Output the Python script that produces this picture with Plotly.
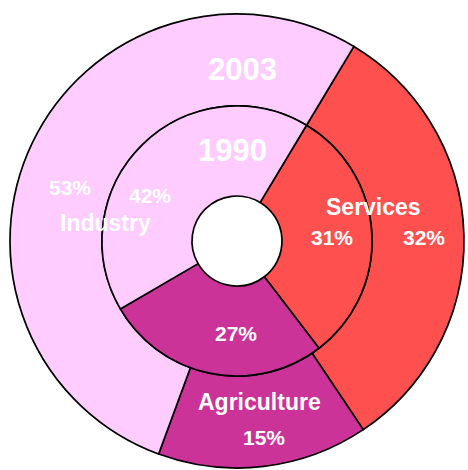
import plotly.graph_objects as go

categories = ["Services", "Agriculture", "Industry"]
values_1990 = [31, 27, 42]
values_2003 = [32, 15, 53]
years = ["1990", "2003"]
colors = ["#FF5050", "#CC3399", "#FFCCFF"]

W, H = 468, 470
cx, cy = 237, 241
R_out, R_mid, R_hole = 227, 135, 45


def dom(r):
    x0 = (cx - r) / W
    x1 = (cx + r) / W
    yb = H - cy
    y0 = (yb - r) / H
    y1 = (yb + r) / H
    return dict(x=[x0, x1], y=[y0, y1])


line = dict(color="black", width=1.7)
fig = go.Figure()
fig.add_trace(go.Pie(
    labels=categories, values=values_2003, sort=False, direction="clockwise",
    rotation=31, hole=R_mid / R_out, domain=dom(R_out), textinfo="none",
    marker=dict(colors=colors, line=line), showlegend=False, hoverinfo="label+percent",
))
fig.add_trace(go.Pie(
    labels=categories, values=values_1990, sort=False, direction="clockwise",
    rotation=31, hole=R_hole / R_mid, domain=dom(R_mid), textinfo="none",
    marker=dict(colors=colors, line=line), showlegend=False, hoverinfo="label+percent",
))

font_fam = "Liberation Sans, Arial, sans-serif"


def ann(x, y, text, size):
    fig.add_annotation(
        x=x / W, y=1 - y / H, xref="paper", yref="paper", text=text, showarrow=False,
        font=dict(family=font_fam, size=size, color="white", weight="bold"),
        xanchor="center", yanchor="middle",
    )


# year labels
ann(242, 69, years[1], 31)
ann(232, 151, years[0], 31)
# category labels
ann(105, 223, categories[2], 23)
ann(373, 207, categories[0], 23)
ann(259, 402, categories[1], 23)
# percentage labels
ann(70, 187, f"{values_2003[2]}%", 21)
ann(150, 195, f"{values_1990[2]}%", 21)
ann(332, 237, f"{values_1990[0]}%", 21)
ann(424, 237, f"{values_2003[0]}%", 21)
ann(236, 333, f"{values_1990[1]}%", 21)
ann(264, 437, f"{values_2003[1]}%", 21)

fig.update_layout(
    width=W, height=H, margin=dict(l=0, r=0, t=0, b=0),
    paper_bgcolor="white", plot_bgcolor="white",
)
fig.write_html(
    "out.html",
    config={"displayModeBar": False},
    post_script="document.body.style.margin='0';document.body.style.overflow='hidden';",
)
